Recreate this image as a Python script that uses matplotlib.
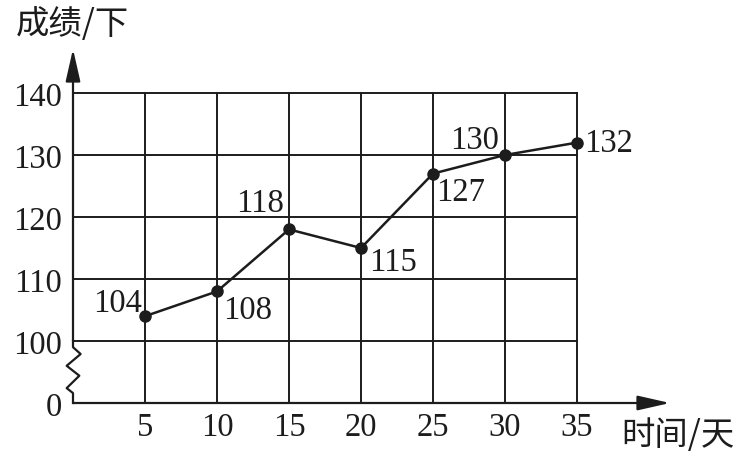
import matplotlib
matplotlib.use("Agg")
import matplotlib.pyplot as plt
import numpy as np

# data
days = [5, 10, 15, 20, 25, 30, 35]
scores = [104, 108, 118, 115, 127, 130, 132]
y_ticks = [100, 110, 120, 130, 140]
# label offsets (points) relative to each marker
label_offsets = [(-20, 4), (22, -19), (-21, 13), (23, -16), (20, -19), (-22, 5), (23, -6)]

ZERO = 90  # where the value 0 sits once the axis is broken
num_font = "Liberation Serif"
cjk_font = ["Noto Sans CJK SC", "DejaVu Sans"]
ink = "#1c1c1c"
fs = 23.5

fig = plt.figure(figsize=(7.44, 4.52), dpi=100)
ax = fig.add_axes([73 / 744, 1 - 404 / 452, 597 / 744, 354 / 452])
ax.set_xlim(0, 597 / 72 * 5)
ax.set_ylim(ZERO, 140 + 44 / 6.2)
for s in ax.spines.values():
    s.set_visible(False)

# grid
for d in days:
    ax.plot([d, d], [ZERO, 140], color=ink, lw=1.4, zorder=1)
for t in y_ticks:
    ax.plot([0, 35], [t, t], color=ink, lw=1.4, zorder=1)

# axes with arrows
arrow = dict(arrowstyle="-|>,head_length=1.1,head_width=0.25", color=ink, lw=1.6,
             shrinkA=0, shrinkB=0, mutation_scale=18)
ax.annotate("", xy=(ax.get_xlim()[1], ZERO), xytext=(0, ZERO), arrowprops=arrow,
            annotation_clip=False)
ax.annotate("", xy=(0, ax.get_ylim()[1]), xytext=(0, 100), arrowprops=arrow,
            annotation_clip=False)

# broken-axis zigzag
zx = [0, 0, 0.53, -0.44, 0.44, -0.44, 0, 0]
zy = [100, 99.0, 97.9, 96.0, 94.4, 92.4, 91.6, ZERO]
ax.plot(zx, zy, color=ink, lw=1.6, clip_on=False, zorder=2)

# line + points
ax.plot(days, scores, color=ink, lw=1.8, marker="o", markersize=8, zorder=3)
for d, v, off in zip(days, scores, label_offsets):
    ax.annotate(str(v), (d, v), xytext=off, textcoords="offset points",
                ha="center", va="baseline", fontsize=fs, family=num_font, color=ink)

# tick labels
ax.set_xticks(days)
ax.set_xticklabels([str(d) for d in days], fontsize=fs, family=num_font, color=ink)
ax.set_yticks([ZERO] + y_ticks)
ax.set_yticklabels(["0"] + [str(t) for t in y_ticks], fontsize=fs, family=num_font, color=ink)
ax.tick_params(axis="x", length=0, pad=6)
ax.tick_params(axis="y", length=0, pad=8)

fig.text(72 / 744, 1 - 25 / 452, "成绩/下", ha="center", va="center",
         fontsize=24, family=cjk_font, color=ink)
fig.text(678 / 744, 1 - 436 / 452, "时间/天", ha="center", va="center",
         fontsize=24, family=cjk_font, color=ink)

fig.savefig("out.png", dpi=100, facecolor="white")
